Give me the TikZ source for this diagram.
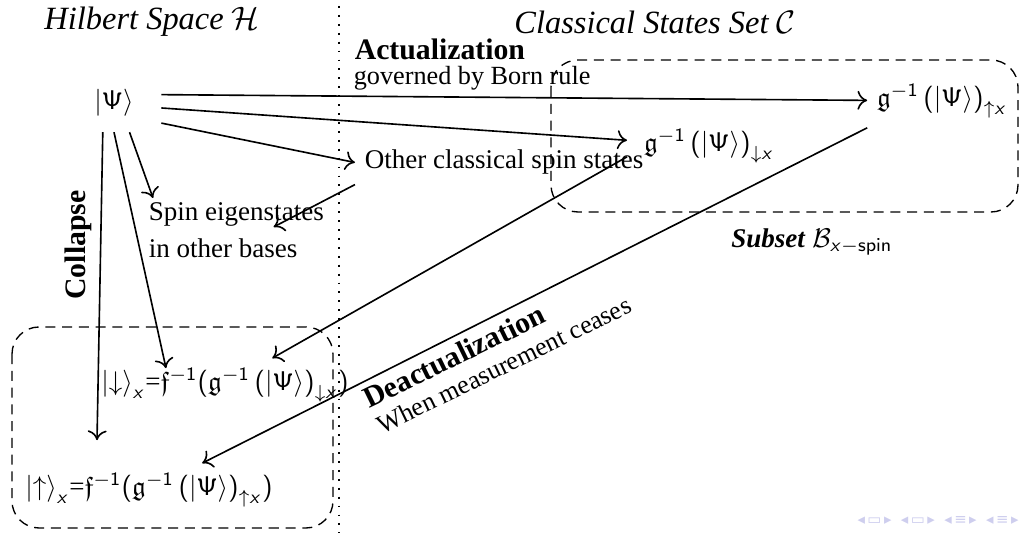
\documentclass[tikz,border=0pt]{standalone}
\usepackage{amsmath,amssymb}
\usepackage[no-math]{fontspec}
\setmainfont{Liberation Serif}
\newfontfamily\navfont{DejaVu Sans}
\usetikzlibrary{calc,arrows.meta}
\definecolor{navblue}{RGB}{206,206,238}
% sans serif letters in formulas, as on the slide
\DeclareSymbolFont{sfup}{OT1}{cmss}{m}{n}
\DeclareSymbolFont{sfsl}{OT1}{cmss}{m}{sl}
\DeclareMathSymbol{\Psi}{\mathalpha}{sfup}{"09}
\DeclareMathSymbol{x}{\mathalpha}{sfsl}{`x}
\DeclareMathSymbol{1}{\mathalpha}{sfup}{`1}
\DeclareMathSymbol{=}{\mathrel}{sfup}{`=}
\DeclareMathDelimiter{(}{\mathopen}{sfup}{"28}{largesymbols}{"00}
\DeclareMathDelimiter{)}{\mathclose}{sfup}{"29}{largesymbols}{"01}

\begin{document}
\begin{tikzpicture}[x=0.013cm, y=0.013cm, line width=0.6pt, >={To[length=3.6pt,width=7pt]},
    title/.style={font=\fontsize{12}{14}\selectfont\itshape},
    bold/.style={font=\fontsize{11}{13}\selectfont\bfseries},
    plain/.style={font=\fontsize{10}{12}\selectfont},
    setbox/.style={dash pattern=on 3.7pt off 2.5pt, line width=0.5pt, rounded corners=10pt}]
    \useasboundingbox (0,0) rectangle (1025,-533);

    % The two spaces
    \draw[line width=0.7pt, dash pattern=on 0.7pt off 2.6pt] (339,-6) -- (339,-533);
    \node[title] (hilbert) at (152,-22) {Hilbert Space $\mathcal{H}$};
    \node[title] (classical) at (655,-22) {Classical States Set $\mathcal{C}$};

    % Sets
    \draw[setbox] (551,-60) rectangle (1018,-212);
    \draw[setbox] (12,-327) rectangle (333,-528);
    \node (subset) at (812,-242) {\textbf{\textit{Subset}} $\mathcal{B}_{x-\mathsf{spin}}$};

    % States
    \node[inner xsep=10pt, inner ysep=5.5pt] (psi) at (114,-103) {$\left|\Psi\right\rangle$};
    \node (gup) at (942,-101) {$\mathfrak{g}^{-1}\left(\left|\Psi\right\rangle\right)_{\uparrow x}$};
    \node[inner xsep=6pt] (gdown) at (709,-146) {$\mathfrak{g}^{-1}\left(\left|\Psi\right\rangle\right)_{\downarrow x}$};
    \node[plain, anchor=base west] (other) at (355,-169) {Other classical spin states};
    \node[plain, anchor=north west, align=left, font=\fontsize{10}{13.5}\selectfont] (spin) at (139,-193) {Spin eigenstates\\in other bases};
    \node (down) at (225,-385) {$\left|\downarrow\right\rangle_x$=$\mathfrak{f}^{-1}(\mathfrak{g}^{-1}\left(\left|\Psi\right\rangle\right)_{\downarrow x})$};
    \node (up) at (149,-490) {$\left|\uparrow\right\rangle_x$=$\mathfrak{f}^{-1}(\mathfrak{g}^{-1}\left(\left|\Psi\right\rangle\right)_{\uparrow x})$};

    % Labels
    \node[bold, anchor=base west, inner sep=0pt] (act) at (354,-60) {Actualization};
    \node[plain, anchor=base west, inner sep=0pt, font=\fontsize{9.7}{12}\selectfont] (born) at (353,-85) {governed by Born rule};
    \node[bold, rotate=90] (collapse) at (78,-245) {Collapse};
    \node[plain, rotate=26, align=left, font=\fontsize{9.6}{10.5}\selectfont] (deact) at (497,-351)
        {{\fontsize{11}{10.5}\selectfont\bfseries Deactualization}\\When measurement ceases};

    % Actualization
    \draw[->] (psi.10) -- (gup);
    \draw[->] (psi.-6) -- (gdown);
    \draw[->] (psi.-23) -- (other.west);
    \draw[->] (psi.-62) -- ($(spin.north west)+(14,-5)$);
    \draw[->] (other.south west) -- ($(spin.north east)+(-60,-34)$);

    % Collapse
    \draw[->] (psi.-111) -- ($(up.north)+(-52,23)$);
    \draw[->] (psi.south) -- ($(down.north)+(-59,-10)$);

    % Deactualization
    \draw[->] ($(gdown.south west)+(0,16)$) -- (down);
    \draw[->] (gup.south west) -- (up);

    % navigation symbols
    \node[text=navblue, font=\navfont\fontsize{5.5}{6}\selectfont] (nav) at (938,-521) {◂\,▭\,▸\ \ ◂\,▭\,▸\ \ ◂\,≡\,▸\ \ ◂\,≡\,▸};
\end{tikzpicture}
\end{document}
